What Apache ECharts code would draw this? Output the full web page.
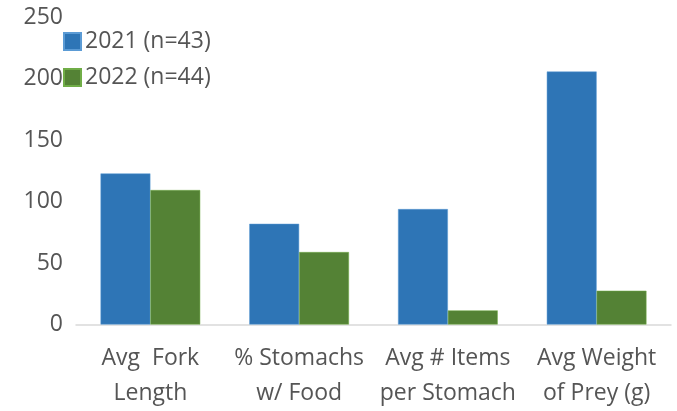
<!DOCTYPE html>
<html>
<head>
<meta charset="utf-8">
<script src="https://cdn.jsdelivr.net/npm/echarts@6/dist/echarts.min.js"></script>
<style>
  html, body { margin: 0; padding: 0; background: #fff; }
  #chart { width: 677px; height: 411px; }
</style>
</head>
<body>
<div id="chart"></div>
<script>
// Stomach-content comparison between two sampling years
const categories = ['Avg  Fork\nLength', '% Stomachs\nw/ Food', 'Avg # Items\nper Stomach', 'Avg Weight\nof Prey (g)'];
const seriesNames = ['2021 (n=43)', '2022 (n=44)'];
const values2021 = [123, 82, 94, 206];
const values2022 = [109.5, 59, 11.5, 27.5];
const yTicks = { min: 0, max: 250, interval: 50 };

const FONT = '"Open Sans", sans-serif';
const TEXT = '#555555';

const chart = echarts.init(document.getElementById('chart'), null, { renderer: 'canvas' });
chart.setOption({
  animation: false,
  textStyle: { fontFamily: FONT },
  grid: { left: 76, right: 6, top: 17.5, bottom: 86.5, containLabel: false },
  legend: {
    orient: 'vertical',
    left: 63,
    top: 30,
    padding: 0,
    itemWidth: 17,
    itemHeight: 17,
    itemGap: 13,
    icon: 'rect',
    textStyle: { fontFamily: FONT, fontSize: 23, color: TEXT, padding: [2, 0, 0, -1] },
    data: seriesNames
  },
  xAxis: {
    type: 'category',
    data: categories,
    axisLine: { lineStyle: { color: '#d9d9d9', width: 1.5 } },
    axisTick: { show: false },
    axisLabel: { interval: 0, fontFamily: FONT, fontSize: 23, color: TEXT, lineHeight: 35, margin: 16 }
  },
  yAxis: {
    type: 'value',
    min: yTicks.min,
    max: yTicks.max,
    interval: yTicks.interval,
    splitLine: { show: false },
    axisLine: { show: false },
    axisTick: { show: false },
    axisLabel: { fontFamily: FONT, fontSize: 23, color: TEXT, margin: 13 }
  },
  series: [
    {
      name: seriesNames[0],
      type: 'bar',
      data: values2021,
      barGap: '0%',
      barCategoryGap: '33%',
      itemStyle: { color: '#2e75b6', borderColor: '#5b9bd5', borderWidth: 0.5 }
    },
    {
      name: seriesNames[1],
      type: 'bar',
      data: values2022,
      itemStyle: { color: '#548235', borderColor: '#70ad47', borderWidth: 0.5 }
    }
  ]
});
</script>
</body>
</html>
